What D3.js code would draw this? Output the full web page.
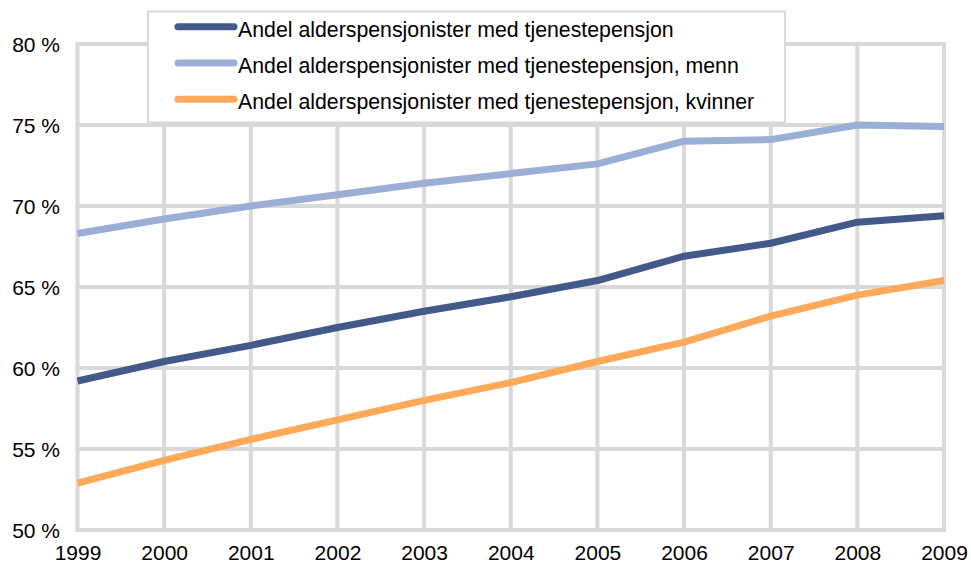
<!DOCTYPE html>
<html>
<head>
<meta charset="utf-8">
<script src="https://cdn.jsdelivr.net/npm/d3@7"></script>
<style>
  html, body { margin: 0; padding: 0; background: #fff; }
  svg { display: block; font-family: "Liberation Sans", Arial, sans-serif; }
</style>
</head>
<body>
<svg id="chart" width="971" height="563"></svg>
<script>
// Years on the x axis
const years = [1999, 2000, 2001, 2002, 2003, 2004, 2005, 2006, 2007, 2008, 2009];

// Share of old-age pensioners with occupational pension (%)
const total  = [59.2, 60.4, 61.4, 62.5, 63.5, 64.4, 65.4, 66.9, 67.7, 69.0, 69.4];
const menn   = [68.3, 69.2, 70.0, 70.7, 71.4, 72.0, 72.6, 74.0, 74.1, 75.0, 74.9];
const kvinner = [52.9, 54.3, 55.6, 56.8, 58.0, 59.1, 60.4, 61.6, 63.2, 64.5, 65.4];

const seriesNames = [
  "Andel alderspensjonister med tjenestepensjon",
  "Andel alderspensjonister med tjenestepensjon, menn",
  "Andel alderspensjonister med tjenestepensjon, kvinner"
];
const seriesColors = ["#42598a", "#9bafd6", "#ffa95b"];

const yTicks = [50, 55, 60, 65, 70, 75, 80];

const series = [total, menn, kvinner].map((vals, i) => ({
  name: seriesNames[i],
  color: seriesColors[i],
  points: vals.map((v, j) => ({ year: years[j], value: v }))
}));

const svg = d3.select("#chart");

const x = d3.scaleLinear().domain([1999, 2009]).range([77.5, 944]);
const y = d3.scaleLinear().domain([50, 80]).range([530, 44]);

const gridColor = "#d9d9d9";

// Horizontal gridlines
svg.append("g")
  .selectAll("line")
  .data(yTicks)
  .join("line")
  .attr("x1", x(1999) - 2)
  .attr("x2", x(2009) + 2)
  .attr("y1", d => y(d))
  .attr("y2", d => y(d))
  .attr("stroke", gridColor)
  .attr("stroke-width", 4);

// Vertical gridlines
svg.append("g")
  .selectAll("line")
  .data(years)
  .join("line")
  .attr("x1", d => x(d))
  .attr("x2", d => x(d))
  .attr("y1", y(80) - 2)
  .attr("y2", y(50) + 2)
  .attr("stroke", gridColor)
  .attr("stroke-width", 4);

// Y axis labels
const yAxis = d3.axisLeft(y)
  .tickValues(yTicks)
  .tickFormat(d => d + " %")
  .tickSize(0)
  .tickPadding(0);
const gy = svg.append("g")
  .attr("transform", `translate(60,0)`)
  .call(yAxis);
gy.select(".domain").remove();
gy.selectAll("text")
  .attr("font-size", 21)
  .attr("font-family", "Liberation Sans, Arial, sans-serif")
  .attr("fill", "#000")
  .attr("dy", "0.36em");

// X axis labels
const xAxis = d3.axisBottom(x)
  .tickValues(years)
  .tickFormat(d3.format("d"))
  .tickSize(0)
  .tickPadding(0);
const gx = svg.append("g")
  .attr("transform", `translate(0,545)`)
  .call(xAxis);
gx.select(".domain").remove();
gx.selectAll("text")
  .attr("font-size", 21)
  .attr("font-family", "Liberation Sans, Arial, sans-serif")
  .attr("fill", "#000")
  .attr("dy", "0.71em");

// Lines
const line = d3.line()
  .x(d => x(d.year))
  .y(d => y(d.value));

svg.append("g")
  .selectAll("path")
  .data(series)
  .join("path")
  .attr("d", d => line(d.points))
  .attr("fill", "none")
  .attr("stroke", d => d.color)
  .attr("stroke-width", 7)
  .attr("stroke-linejoin", "round")
  .attr("stroke-linecap", "butt");

// Legend
const legend = svg.append("g");
legend.append("rect")
  .attr("x", 148)
  .attr("y", 11.5)
  .attr("width", 637)
  .attr("height", 111)
  .attr("fill", "#fff")
  .attr("stroke", gridColor)
  .attr("stroke-width", 2);

const rows = legend.selectAll("g.row")
  .data(series)
  .join("g")
  .attr("class", "row")
  .attr("transform", (d, i) => `translate(0,${26.7 + i * 36.3})`);

rows.append("line")
  .attr("x1", 178)
  .attr("x2", 234)
  .attr("y1", 0)
  .attr("y2", 0)
  .attr("stroke", d => d.color)
  .attr("stroke-width", 7)
  .attr("stroke-linecap", "round");

rows.append("text")
  .attr("x", 238)
  .attr("y", 10)
  .attr("font-size", 21.3)
  .attr("fill", "#000")
  .text(d => d.name);
</script>
</body>
</html>
